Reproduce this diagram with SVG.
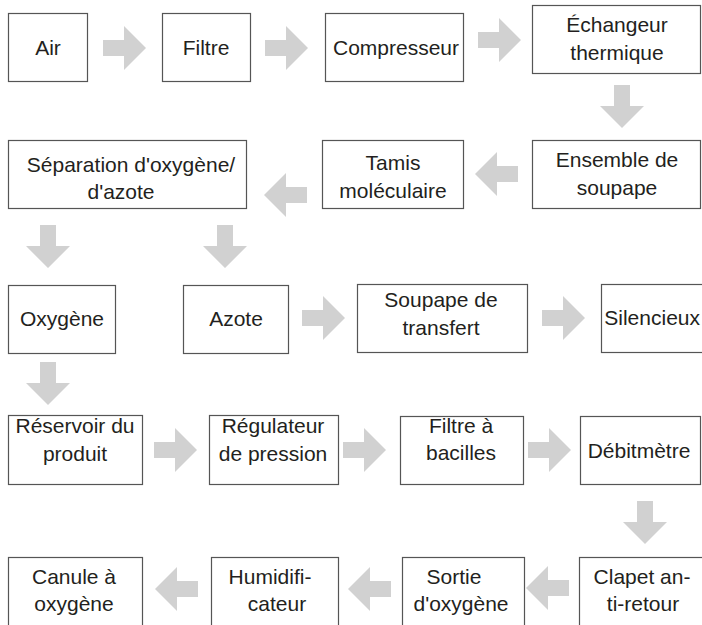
<svg xmlns="http://www.w3.org/2000/svg" width="702" height="625" viewBox="0 0 702 625">
<style>
.box{fill:#fff;stroke:#555;stroke-width:1.2}
text{font-family:"Liberation Sans",Arial,sans-serif;font-size:21px;fill:#231f20;text-anchor:middle}
.arr{fill:#d1d1d1}
</style>
<defs>
<path id="ar" d="M0,-8 H21 V-22 L43,0 L21,22 V8 H0 Z"/>
</defs>
<rect width="702" height="625" fill="#fff"/>
<g id="connectors">
<use href="#ar" class="arr" transform="translate(103,48)"/>
<use href="#ar" class="arr" transform="translate(265,48)"/>
<use href="#ar" class="arr" transform="translate(478,40)"/>
<use href="#ar" class="arr" transform="translate(622,85) rotate(90)"/>
<use href="#ar" class="arr" transform="translate(518,174) rotate(180)"/>
<use href="#ar" class="arr" transform="translate(307,195) rotate(180)"/>
<use href="#ar" class="arr" transform="translate(48,225) rotate(90)"/>
<use href="#ar" class="arr" transform="translate(225,225) rotate(90)"/>
<use href="#ar" class="arr" transform="translate(302,318)"/>
<use href="#ar" class="arr" transform="translate(542,318)"/>
<use href="#ar" class="arr" transform="translate(48,362) rotate(90)"/>
<use href="#ar" class="arr" transform="translate(154,450)"/>
<use href="#ar" class="arr" transform="translate(343,450)"/>
<use href="#ar" class="arr" transform="translate(528,450)"/>
<use href="#ar" class="arr" transform="translate(645,501) rotate(90)"/>
<use href="#ar" class="arr" transform="translate(569,588) rotate(180)"/>
<use href="#ar" class="arr" transform="translate(391,589) rotate(180)"/>
<use href="#ar" class="arr" transform="translate(198,589) rotate(180)"/>
</g>
<g id="air"><rect class="box" x="8.5" y="13.5" width="79" height="68"/><text x="48" y="55">Air</text></g>
<g id="filtre"><rect class="box" x="162.5" y="13.5" width="88" height="68"/><text x="206" y="55">Filtre</text></g>
<g id="compresseur"><rect class="box" x="325.5" y="13.5" width="138" height="68"/><text x="396" y="55">Compresseur</text></g>
<g id="echangeur"><rect class="box" x="532.5" y="5.5" width="168" height="68"/><text x="617" y="32">Échangeur</text><text x="617" y="60">thermique</text></g>
<g id="separation"><rect class="box" x="8.5" y="140.5" width="238" height="68"/><text x="131" y="172">Séparation d'oxygène/</text><text x="121" y="199">d'azote</text></g>
<g id="tamis"><rect class="box" x="322.5" y="140.5" width="141" height="68"/><text x="393" y="170">Tamis</text><text x="393" y="198">moléculaire</text></g>
<g id="ensemble"><rect class="box" x="532.5" y="140.5" width="168" height="68"/><text x="617" y="167">Ensemble de</text><text x="617" y="195">soupape</text></g>
<g id="oxygene"><rect class="box" x="8.5" y="285.5" width="107" height="68"/><text x="62" y="326">Oxygène</text></g>
<g id="azote"><rect class="box" x="183.5" y="285.5" width="105" height="68"/><text x="236" y="326">Azote</text></g>
<g id="soupape"><rect class="box" x="357.5" y="284.5" width="170" height="68"/><text x="441" y="307">Soupape de</text><text x="441" y="335">transfert</text></g>
<g id="silencieux"><rect class="box" x="601.5" y="284.5" width="110" height="68"/><text x="700" y="325" style="text-anchor:end">Silencieux</text></g>
<g id="reservoir"><rect class="box" x="8.5" y="415.5" width="134" height="69"/><text x="75" y="433">Réservoir du</text><text x="75" y="461">produit</text></g>
<g id="regulateur"><rect class="box" x="209.5" y="415.5" width="129" height="69"/><text x="273" y="433">Régulateur</text><text x="273" y="461">de pression</text></g>
<g id="filtre-bacilles"><rect class="box" x="400.5" y="416.5" width="123" height="68"/><text x="461" y="433">Filtre à</text><text x="461" y="460">bacilles</text></g>
<g id="debitmetre"><rect class="box" x="580.5" y="416.5" width="120" height="68"/><text x="639" y="458">Débitmètre</text></g>
<g id="canule"><rect class="box" x="8.5" y="557.5" width="134" height="80"/><text x="74" y="584">Canule à</text><text x="74" y="611">oxygène</text></g>
<g id="humidificateur"><rect class="box" x="211.5" y="557.5" width="127" height="80"/><text x="270" y="584">Humidifi-</text><text x="277" y="611">cateur</text></g>
<g id="sortie"><rect class="box" x="402.5" y="557.5" width="122" height="80"/><text x="454" y="584">Sortie</text><text x="461" y="611">d'oxygène</text></g>
<g id="clapet"><rect class="box" x="579.5" y="557.5" width="130" height="80"/><text x="642" y="584">Clapet an-</text><text x="643" y="611">ti-retour</text></g>
</svg>
